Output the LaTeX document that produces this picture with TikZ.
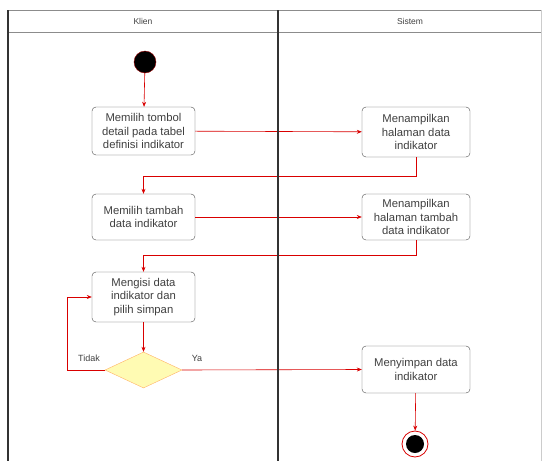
\documentclass[tikz,border=0pt]{standalone}
\usepackage{fontspec}
\setmainfont{Liberation Sans}
\usetikzlibrary{shapes.geometric,arrows.meta}

\begin{document}
\begin{tikzpicture}[
  x=1pt,
  y=-1pt,
  lane line/.style={
    draw,
    black!80,
    line width=1.4pt
  },
  lane title/.style={
    font=\fontsize{8.5}{9}\selectfont,
    text=black!75
  },
  action box/.style={
    draw=black!70,
    rounded corners=4pt,
    fill=white,
    align=center,
    inner sep=0pt,
    font=\fontsize{11.3}{13.8}\selectfont,
    text=black!75
  },
  flow/.style={
    draw=red!85!black,
    line width=0.6pt,
    -{Stealth[length=5pt,width=4pt]}
  },
  choice/.style={
    diamond,
    draw=orange!60,
    fill=yellow!30,
    inner sep=0pt,
    minimum width=77pt,
    minimum height=36pt,
    aspect=2.1
  },
  guard/.style={
    font=\fontsize{9}{10}\selectfont,
    text=black!75
  },
]
\useasboundingbox (0,0) rectangle (544,461);

% swimlanes
\draw[black!45, line width=1pt] (8,10) -- (541,10);
\draw[black!45, line width=1pt] (8,32) -- (541,32);
\draw[black!20, line width=0.8pt] (541,10) -- (541,461);
\draw[lane line] (8,10) -- (8,461);
\node[lane title] (klien) at (143,21) {Klien};
\node[lane title] (sistem) at (410,21) {Sistem};

% start
\node[circle, fill=black, draw=red!60!black, minimum size=22pt, inner sep=0pt] (start) at (145,62) {};

% actions
\node[action box, minimum width=103pt, minimum height=48pt] (pilihDetail) at (143.5,131)
  {Memilih tombol\\detail pada tabel\\definisi indikator};
\node[action box, minimum width=108pt, minimum height=50pt] (tampilData) at (416,132)
  {Menampilkan\\halaman data\\indikator};
\node[action box, minimum width=103pt, minimum height=46pt] (pilihTambah) at (143.5,217)
  {Memilih tambah\\data indikator};
\node[action box, minimum width=108pt, minimum height=46pt] (tampilTambah) at (416,217)
  {Menampilkan\\halaman tambah\\data indikator};
\node[action box, minimum width=103pt, minimum height=50pt] (isiData) at (143.5,297)
  {Mengisi data\\indikator dan\\pilih simpan};
\node[choice] (cek) at (143.5,370) {};
\node[action box, minimum width=108pt, minimum height=47pt] (simpanData) at (416,369.5)
  {Menyimpan data\\indikator};

% end
\node[circle, draw=red!85!black, line width=0.8pt, fill=white, minimum size=26pt, inner sep=0pt] (stop) at (415,444) {};
\node[circle, fill=black, minimum size=18pt, inner sep=0pt] (stopDot) at (stop) {};

% bends
\coordinate (b1) at (416,176);
\coordinate (b2) at (143.5,176);
\coordinate (b3) at (416,255);
\coordinate (b4) at (143.5,255);
\coordinate (b5) at (67,370);
\coordinate (b6) at (67,297);

% flows
\draw[flow] (start) -- (pilihDetail);
\draw[flow] (pilihDetail) -- (tampilData);
\draw[flow] (tampilData.south) -- (b1) -- (b2) -- (pilihTambah.north);
\draw[flow] (pilihTambah) -- (tampilTambah);
\draw[flow] (tampilTambah.south) -- (b3) -- (b4) -- (isiData.north);
\draw[flow] (isiData) -- (cek);
\draw[flow] (cek.west) -- (b5) -- (b6) -- (isiData.west);
\draw[flow] (cek.east) -- (simpanData.west);
\draw[flow] (simpanData) -- (stop);

% guards
\node[guard] (tidak) at (89,358) {Tidak};
\node[guard] (ya) at (197,358) {Ya};

% lane divider on top
\draw[lane line] (278,10) -- (278,461);
\end{tikzpicture}
\end{document}
